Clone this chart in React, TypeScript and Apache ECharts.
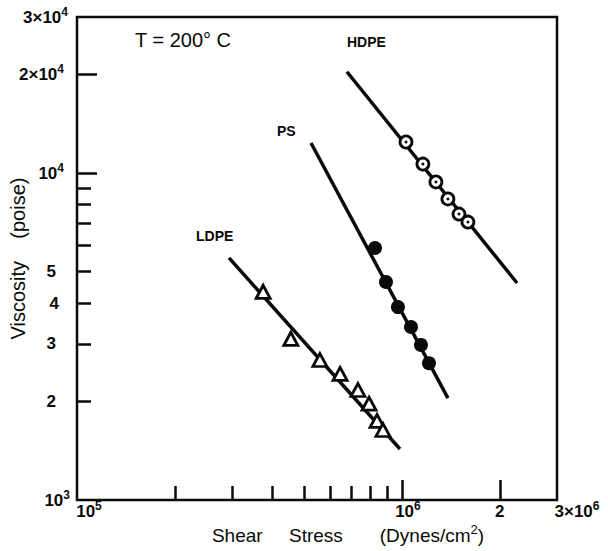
import React, { useEffect, useRef } from 'react';
import * as echarts from 'echarts';

// Measured data (shear stress in dynes/cm², viscosity in poise)
const ldpeStress = [3.74e5, 4.55e5, 5.59e5, 6.45e5, 7.32e5, 7.92e5, 8.38e5, 8.74e5];
const ldpeViscosity = [4330, 3110, 2680, 2430, 2170, 1970, 1745, 1637];
const psStress = [8.26e5, 8.93e5, 9.72e5, 1.066e6, 1.144e6, 1.211e6];
const psViscosity = [5900, 4640, 3890, 3380, 2980, 2620];
const hdpeStress = [1.029e6, 1.16e6, 1.272e6, 1.385e6, 1.498e6, 1.596e6];
const hdpeViscosity = [12440, 10650, 9390, 8330, 7490, 7080];

// Fitted straight lines (end points)
const ldpeFitStress = [2.936e5, 9.86e5];
const ldpeFitViscosity = [5500, 1432];
const psFitStress = [5.25e5, 1.385e6];
const psFitViscosity = [12350, 2050];
const hdpeFitStress = [6.77e5, 2.26e6];
const hdpeFitViscosity = [20400, 4610];

// Axes
const xMin = 1e5;
const xMax = 3e6;
const yMin = 1e3;
const yMax = 3e4;
const xMinorTicks = [2e5, 3e5, 4e5, 5e5, 6e5, 7e5, 8e5, 9e5];
const xMajorTicks = [1e6, 2e6];
const xLabelValues = [1e5, 1e6, 2e6, 3e6];
const xLabelTexts = ['10^5', '10^6', '2', '3×10^6'];
const yMinorTicks = [2e3, 3e3, 4e3, 5e3, 6e3, 7e3, 8e3, 9e3];
const yMajorTicks = [1e4, 2e4];
const yLabelValues = [1e3, 2e3, 3e3, 4e3, 5e3, 1e4, 2e4, 3e4];
const yLabelTexts = ['10^3', '2', '3', '4', '5', '10^4', '2×10^4', '3×10^4'];

const NB = '\u00A0';
const xTitle = `Shear${NB.repeat(5)}Stress${NB.repeat(7)}(Dynes/cm^2)`;
const yTitle = `Viscosity${NB.repeat(4)}(poise)`;
const annotations = ['T = 200° C', 'HDPE', 'PS', 'LDPE'];

const FONT = '"Liberation Sans", Arial, Helvetica, sans-serif';
const INK = '#0a0a0a';

const zip = (a: number[], b: number[]) => a.map((v, i) => [v, b[i]]);
const findIdx = (arr: number[], v: number) =>
  arr.findIndex((a) => Math.abs(a - v) / a < 1e-6);

function buildOption() {
  const xPad = [24, 12, 0, 40];
  const yPad = [0, 14, 14, 11, 14, 6, 6, 2];

  const mainStyle = {
    fontSize: 17,
    fontWeight: 'bold',
    fontFamily: FONT,
    color: INK,
    lineHeight: 17,
    verticalAlign: 'bottom',
  };
  const supStyle = {
    fontSize: 12,
    fontWeight: 'bold',
    fontFamily: FONT,
    color: INK,
    lineHeight: 12,
    verticalAlign: 'bottom',
  };

  const rich: Record<string, any> = {
    s: { ...supStyle, padding: [0, 0, 8, 0] },
  };
  xPad.forEach((p, i) => {
    rich['xa' + i] = { ...mainStyle, padding: [0, 0, 0, p] };
  });
  yPad.forEach((p, i) => {
    rich['ya' + i] = { ...mainStyle, padding: [0, p, 0, 0] };
    rich['yb' + i] = { ...supStyle, padding: [0, p, 8, 0] };
  });

  const xFormatter = (value: number) => {
    const i = findIdx(xLabelValues, value);
    if (i < 0) return '';
    const [base, exp] = xLabelTexts[i].split('^');
    return `{xa${i}|${base}}` + (exp ? `{s|${exp}}` : '');
  };
  const yFormatter = (value: number) => {
    const i = findIdx(yLabelValues, value);
    if (i < 0) return '';
    const [base, exp] = yLabelTexts[i].split('^');
    if (exp) return `{ya0|${base}}{yb${i}|${exp}}`;
    return `{ya${i}|${base}}`;
  };

  const [xt1, xt2] = xTitle.split('^');
  const xName = `{t|${xt1}}{ts|${xt2.slice(0, 1)}}{t|${xt2.slice(1)}}`;

  const baseAxis = {
    type: 'log' as const,
    logBase: 10,
    axisLine: { show: false },
    splitLine: { show: false },
    minorTick: { show: false },
    minorSplitLine: { show: false },
  };

  const tickLine = { color: INK, width: 2.5 };
  const labelBase = {
    fontSize: 17,
    fontWeight: 'bold',
    fontFamily: FONT,
    color: INK,
  };

  return {
    animation: false,
    backgroundColor: '#ffffff',
    grid: {
      left: 77,
      right: 51,
      top: 17,
      bottom: 51,
      containLabel: false,
      outerBoundsMode: 'none',
      show: true,
      borderColor: INK,
      borderWidth: 2.5,
      backgroundColor: 'transparent',
    },
    xAxis: [
      {
        ...baseAxis,
        min: xMin,
        max: xMax,
        position: 'bottom',
        axisTick: {
          show: true,
          inside: true,
          length: 14,
          lineStyle: tickLine,
          customValues: xMinorTicks,
        },
        axisLabel: {
          ...labelBase,
          show: true,
          margin: 3,
          customValues: xLabelValues,
          formatter: xFormatter,
          rich,
          showMinLabel: true,
          showMaxLabel: true,
          hideOverlap: false,
        },
        name: xName,
        nameLocation: 'middle',
        nameGap: 26,
        nameMoveOverlap: false,
        nameTextStyle: {
          padding: [0, 0, 0, 62],
          rich: {
            t: {
              fontSize: 19,
              fontFamily: FONT,
              color: INK,
              lineHeight: 19,
              verticalAlign: 'bottom',
            },
            ts: {
              fontSize: 13,
              fontFamily: FONT,
              color: INK,
              lineHeight: 13,
              verticalAlign: 'bottom',
              padding: [0, 0, 9, 0],
            },
          },
        },
      },
      {
        ...baseAxis,
        min: xMin,
        max: xMax,
        position: 'bottom',
        axisTick: {
          show: true,
          inside: true,
          length: 20,
          lineStyle: tickLine,
          customValues: xMajorTicks,
        },
        axisLabel: { show: false },
      },
    ],
    yAxis: [
      {
        ...baseAxis,
        min: yMin,
        max: yMax,
        position: 'left',
        axisTick: {
          show: true,
          inside: true,
          length: 14,
          lineStyle: tickLine,
          customValues: yMinorTicks,
        },
        axisLabel: {
          ...labelBase,
          show: true,
          margin: 7,
          customValues: yLabelValues,
          formatter: yFormatter,
          rich,
          showMinLabel: true,
          showMaxLabel: true,
          hideOverlap: false,
        },
        name: yTitle,
        nameLocation: 'middle',
        nameGap: 49,
        nameRotate: 90,
        nameMoveOverlap: false,
        nameTextStyle: {
          fontSize: 20,
          fontFamily: FONT,
          color: INK,
        },
      },
      {
        ...baseAxis,
        min: yMin,
        max: yMax,
        position: 'left',
        axisTick: {
          show: true,
          inside: true,
          length: 20,
          lineStyle: tickLine,
          customValues: yMajorTicks,
        },
        axisLabel: { show: false },
      },
    ],
    graphic: [
      {
        type: 'text',
        x: 135,
        y: 40,
        style: {
          text: annotations[0],
          font: `20px ${FONT}`,
          fill: INK,
          verticalAlign: 'middle',
        },
      },
      {
        type: 'text',
        x: 347,
        y: 42,
        style: {
          text: annotations[1],
          font: `bold 14px ${FONT}`,
          fill: INK,
          verticalAlign: 'middle',
        },
      },
      {
        type: 'text',
        x: 277,
        y: 131,
        style: {
          text: annotations[2],
          font: `bold 14px ${FONT}`,
          fill: INK,
          verticalAlign: 'middle',
        },
      },
      {
        type: 'text',
        x: 196,
        y: 236,
        style: {
          text: annotations[3],
          font: `bold 14px ${FONT}`,
          fill: INK,
          verticalAlign: 'middle',
        },
      },
    ],
    series: [
      {
        name: 'LDPE fit',
        type: 'line',
        data: zip(ldpeFitStress, ldpeFitViscosity),
        symbol: 'none',
        lineStyle: { color: INK, width: 3.5 },
        silent: true,
        z: 2,
      },
      {
        name: 'PS fit',
        type: 'line',
        data: zip(psFitStress, psFitViscosity),
        symbol: 'none',
        lineStyle: { color: INK, width: 3.5 },
        silent: true,
        z: 2,
      },
      {
        name: 'HDPE fit',
        type: 'line',
        data: zip(hdpeFitStress, hdpeFitViscosity),
        symbol: 'none',
        lineStyle: { color: INK, width: 3.5 },
        silent: true,
        z: 2,
      },
      {
        name: 'LDPE',
        type: 'scatter',
        data: zip(ldpeStress, ldpeViscosity),
        symbol: 'triangle',
        symbolSize: [14, 13],
        itemStyle: { color: '#ffffff', borderColor: INK, borderWidth: 2.8, opacity: 1 },
        z: 3,
      },
      {
        name: 'PS',
        type: 'scatter',
        data: zip(psStress, psViscosity),
        symbol: 'circle',
        symbolSize: 14,
        itemStyle: { color: INK, opacity: 1 },
        z: 3,
      },
      {
        name: 'HDPE',
        type: 'scatter',
        data: zip(hdpeStress, hdpeViscosity),
        symbol: 'circle',
        symbolSize: 12,
        itemStyle: { color: '#ffffff', borderColor: INK, borderWidth: 2.8, opacity: 1 },
        z: 3,
      },
      {
        name: 'HDPE centre',
        type: 'scatter',
        data: zip(hdpeStress, hdpeViscosity),
        symbol: 'circle',
        symbolSize: 3,
        itemStyle: { color: INK, opacity: 1 },
        silent: true,
        z: 4,
      },
    ],
  };
}

export default function App() {
  const ref = useRef<HTMLDivElement | null>(null);
  useEffect(() => {
    document.body.style.margin = '0';
    if (!ref.current) return;
    const chart = echarts.init(ref.current, undefined, { renderer: 'svg' });
    chart.setOption(buildOption() as any);
    return () => {
      chart.dispose();
    };
  }, []);
  return <div ref={ref} style={{ width: 608, height: 551, background: '#fff' }} />;
}
